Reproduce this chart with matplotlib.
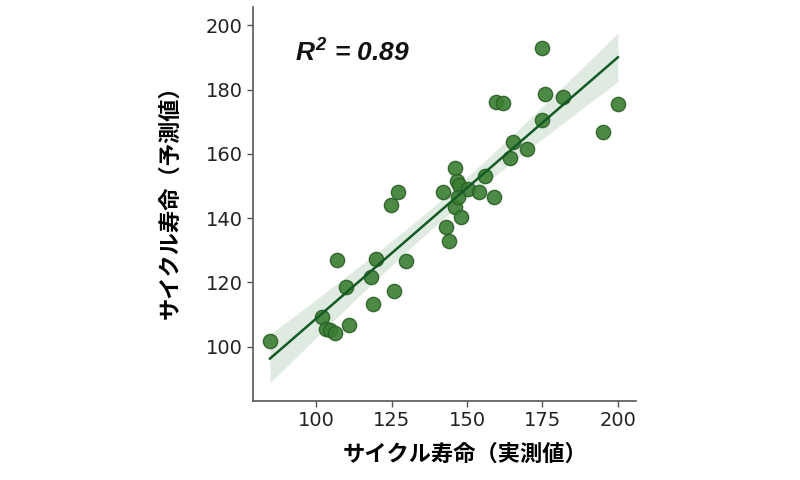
import numpy as np
import matplotlib
matplotlib.use("Agg")
import matplotlib.pyplot as plt

# measured (x) vs predicted (y) cycle life
measured = [84.7, 101.8, 103.2, 104.5, 106.1, 110.8, 106.8, 109.9, 118.8, 118.2,
            119.9, 125.7, 129.8, 124.9, 127.1, 142.0, 142.9, 144.0, 145.9, 148.1,
            145.9, 146.8, 147.3, 150.3, 147.0, 153.9, 159.1, 155.8, 164.1, 165.1,
            169.9, 159.7, 161.9, 174.8, 175.7, 181.8, 174.9, 195.0, 200.0]
predicted = [101.9, 109.3, 105.5, 105.1, 104.4, 106.9, 126.9, 118.7, 113.4, 121.6,
             127.4, 117.2, 126.6, 144.0, 148.1, 148.0, 137.4, 133.0, 143.6, 140.3,
             155.6, 151.6, 150.3, 149.1, 146.5, 148.0, 146.7, 153.1, 158.7, 163.6,
             161.5, 176.0, 175.7, 170.5, 178.7, 177.7, 192.9, 166.8, 175.5]
xticks = [100, 125, 150, 175, 200]
yticks = [100, 120, 140, 160, 180, 200]
r2_text = "0.89"
xlabel = "サイクル寿命（実測値）"
ylabel = "サイクル寿命（予測値）"

x = np.array(measured)
y = np.array(predicted)

# linear fit and analytic 95% confidence band of the mean
b, a = np.polyfit(x, y, 1)
n = len(x)
xs = np.linspace(x.min(), x.max(), 200)
ys = a + b * xs
resid = y - (a + b * x)
s = np.sqrt(np.sum(resid ** 2) / (n - 2))
sxx = np.sum((x - x.mean()) ** 2)
t = 2.026
se = s * np.sqrt(1.0 / n + (xs - x.mean()) ** 2 / sxx)
lo, hi = ys - t * se, ys + t * se

plt.rcParams['mathtext.fontset'] = 'custom'
plt.rcParams['mathtext.it'] = 'Liberation Sans:italic:bold'
plt.rcParams['mathtext.rm'] = 'Liberation Sans:italic:bold'

fig = plt.figure(figsize=(8, 4.8), dpi=100)
ax = fig.add_axes([0.316, 0.165, 0.479, 0.82])

ax.fill_between(xs, lo, hi, color='#2e7d32', alpha=0.15, linewidth=0, zorder=1)
ax.scatter(x, y, s=105, facecolor='#3a7d32', edgecolor='#2a5e25', linewidth=1.0,
           alpha=0.9, zorder=3)
ax.plot(xs, ys, color='#145a24', linewidth=1.8, zorder=4)

ax.set_xlim(79, 206)
ax.set_ylim(83.2, 205.6)
ax.set_xticks(xticks)
ax.set_yticks(yticks)
ax.tick_params(labelsize=14, colors='#222222', length=4, width=1, color='#555555')
for side in ['top', 'right']:
    ax.spines[side].set_visible(False)
for side in ['left', 'bottom']:
    ax.spines[side].set_color('#555555')
    ax.spines[side].set_linewidth(1.2)

ax.set_xlabel(xlabel, fontsize=16, fontweight='bold',
              family=['Noto Sans CJK JP', 'DejaVu Sans'])
ax.set_ylabel(ylabel, fontsize=16, fontweight='bold',
              family=['Noto Sans CJK JP', 'DejaVu Sans'])
ax.xaxis.set_label_coords(0.553, -0.137)
ax.xaxis.label.set_va('center')
ax.yaxis.set_label_coords(-0.217, 0.519)
ax.yaxis.label.set_va('center')

ax.text(0.11, 0.863, r'$R^{2}$ = ' + r2_text, transform=ax.transAxes,
        fontsize=19, fontweight='bold', fontstyle='italic',
        family='Liberation Sans', ha='left', va='baseline', color='#111111')

fig.savefig('out.png', dpi=100)
